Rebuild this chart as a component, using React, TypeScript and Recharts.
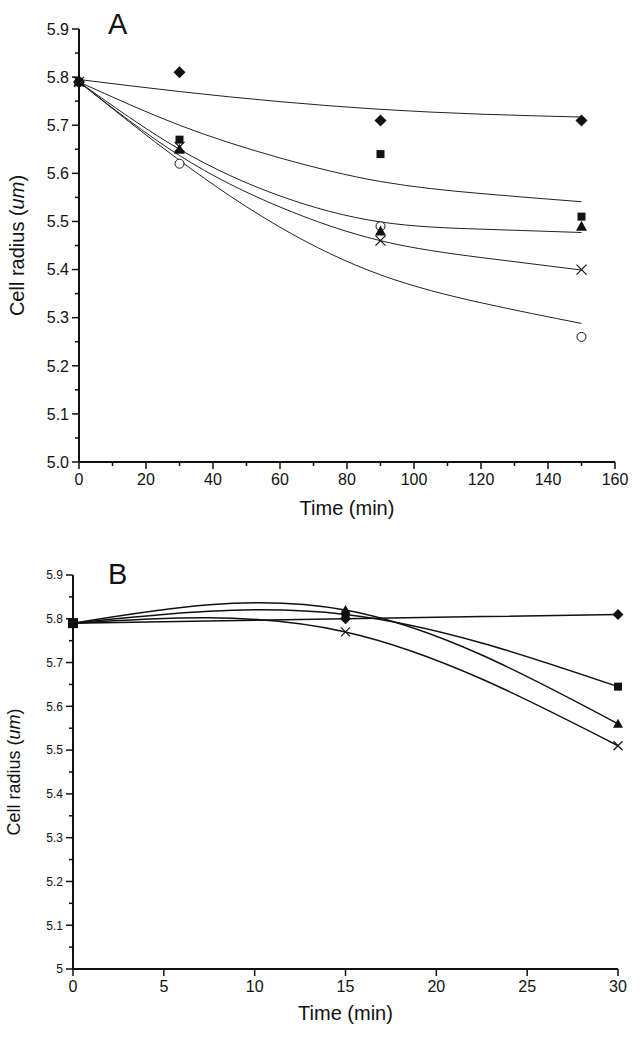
import { ComposedChart, Line, Scatter, XAxis, YAxis } from 'recharts';

// Panel A: fitted curves (read at regular times) and observed points
const timeFitA = [0, 30, 60, 90, 120, 150];
const fitDiamondA = [5.795, 5.77, 5.749, 5.733, 5.723, 5.717];
const fitSquareA = [5.79, 5.7, 5.632, 5.583, 5.558, 5.541];
const fitTriangleA = [5.79, 5.65, 5.553, 5.499, 5.484, 5.477];
const fitCrossA = [5.79, 5.637, 5.53, 5.46, 5.425, 5.399];
const fitCircleA = [5.79, 5.627, 5.488, 5.389, 5.331, 5.288];

const timeObsA = [0, 30, 90, 150];
const diamondA = [5.79, 5.81, 5.71, 5.71];
const squareA = [5.79, 5.67, 5.64, 5.51];
const triangleA = [5.79, 5.65, 5.48, 5.49];
const circleA = [5.79, 5.62, 5.49, 5.26];
const crossA = [5.79, 5.655, 5.46, 5.4];

// Panel B
const timeB = [0, 15, 30];
const diamondB = [5.79, 5.8, 5.81];
const squareB = [5.79, 5.81, 5.645];
const triangleB = [5.79, 5.82, 5.56];
const crossB = [5.79, 5.77, 5.51];

// ticks
const yMajorA = [5.0, 5.1, 5.2, 5.3, 5.4, 5.5, 5.6, 5.7, 5.8, 5.9];
const yMinorA = [5.05, 5.15, 5.25, 5.35, 5.45, 5.55, 5.65, 5.75, 5.85];
const xMajorA = [0, 20, 40, 60, 80, 100, 120, 140, 160];
const xMinorA = [10, 30, 50, 70, 90, 110, 130, 150];
const yMajorB = [5, 5.1, 5.2, 5.3, 5.4, 5.5, 5.6, 5.7, 5.8, 5.9];
const yMinorB = [5.05, 5.15, 5.25, 5.35, 5.45, 5.55, 5.65, 5.75, 5.85];
const xTicksB = [0, 5, 10, 15, 20, 25, 30];

const FONT = "'Liberation Sans', Arial, sans-serif";
const NARROW = "'Liberation Sans Narrow', 'Liberation Sans', Arial, sans-serif";
const INK = '#111';

const pts = (ts: number[], vs: number[]) => ts.map((t, i) => ({ t, v: vs[i] }));
const sortNum = (a: number[], b: number[]) => [...a, ...b].sort((p, q) => p - q);
const isIn = (list: number[], v: number) => list.some((m) => Math.abs(m - v) < 1e-6);

function makeYTick(majors: number[], fontSize: number, family: string, fmt: (v: number) => string) {
  return (props: any) => {
    const { x, y, payload } = props;
    const major = isIn(majors, payload.value);
    const len = major ? 7 : 4;
    return (
      <g>
        <line x1={x} x2={x - len} y1={y} y2={y} stroke={INK} strokeWidth={1.5} />
        {major && (
          <text x={x - len - 3} y={y} dy="0.36em" textAnchor="end" fontSize={fontSize} fontFamily={family} fill={INK}>
            {fmt(payload.value)}
          </text>
        )}
      </g>
    );
  };
}

function makeXTick(majors: number[], fontSize: number, family: string) {
  return (props: any) => {
    const { x, y, payload } = props;
    const major = isIn(majors, payload.value);
    const len = major ? 7 : 4;
    return (
      <g>
        <line x1={x} x2={x} y1={y} y2={y + len} stroke={INK} strokeWidth={1.5} />
        {major && (
          <text x={x} y={y + 12} dy="0.71em" textAnchor="middle" fontSize={fontSize} fontFamily={family} fill={INK}>
            {payload.value}
          </text>
        )}
      </g>
    );
  };
}

function yTitle(cx: number, fontSize: number) {
  return (props: any) => {
    const vb = props.viewBox || {};
    const cy = vb.y + vb.height / 2;
    return (
      <text x={cx} y={cy} transform={`rotate(-90 ${cx} ${cy})`} textAnchor="middle" dy="0.35em" fontSize={fontSize} fontFamily={FONT} fill={INK}>
        Cell radius (<tspan fontStyle="italic">um</tspan>)
      </text>
    );
  };
}

function xTitle(baseline: number, fontSize: number) {
  return (props: any) => {
    const vb = props.viewBox || {};
    return (
      <text x={vb.x + vb.width / 2} y={baseline} textAnchor="middle" fontSize={fontSize} fontFamily={FONT} fill={INK}>
        Time (min)
      </text>
    );
  };
}

// marker shapes
const Diamond = ({ cx, cy, r = 6 }: any) => (
  <polygon points={`${cx},${cy - r} ${cx + r},${cy} ${cx},${cy + r} ${cx - r},${cy}`} fill={INK} />
);
const Square = ({ cx, cy, r = 4 }: any) => <rect x={cx - r} y={cy - r} width={2 * r} height={2 * r} fill={INK} />;
const Triangle = ({ cx, cy, r = 5.5 }: any) => (
  <polygon points={`${cx},${cy - r} ${cx + r},${cy + r * 0.8} ${cx - r},${cy + r * 0.8}`} fill={INK} />
);
const Circle = ({ cx, cy, r = 4.5 }: any) => <circle cx={cx} cy={cy} r={r} fill="#fff" stroke={INK} strokeWidth={1} />;
const Cross = ({ cx, cy, r = 5 }: any) => (
  <path d={`M${cx - r},${cy - r}L${cx + r},${cy + r}M${cx - r},${cy + r}L${cx + r},${cy - r}`} stroke={INK} strokeWidth={1.2} fill="none" />
);

function PanelA() {
  const fits = [fitDiamondA, fitSquareA, fitTriangleA, fitCrossA, fitCircleA];
  return (
    <ComposedChart width={642} height={530} margin={{ top: 29, right: 27, bottom: 8, left: 0 }}>
      <XAxis
        type="number"
        dataKey="t"
        domain={[0, 160]}
        ticks={sortNum(xMajorA, xMinorA)}
        interval={0}
        tickSize={0}
        tickMargin={0}
        tickLine={false}
        axisLine={{ stroke: INK, strokeWidth: 2 }}
        tick={makeXTick(xMajorA, 16, FONT)}
        height={60}
        label={{ content: xTitle(515, 20) }}
      />
      <YAxis
        type="number"
        dataKey="v"
        domain={[5.0, 5.9]}
        ticks={sortNum(yMajorA, yMinorA)}
        interval={0}
        tickSize={0}
        tickMargin={0}
        tickLine={false}
        axisLine={{ stroke: INK, strokeWidth: 2 }}
        tick={makeYTick(yMajorA, 16, FONT, (v) => v.toFixed(1))}
        width={79}
        label={{ content: yTitle(17, 20) }}
      />
      {fits.map((f, i) => (
        <Line
          key={i}
          data={pts(timeFitA, f)}
          dataKey="v"
          type="natural"
          stroke="#222"
          strokeWidth={1}
          dot={false}
          isAnimationActive={false}
        />
      ))}
      <Scatter data={pts(timeObsA, circleA)} dataKey="v" shape={(p: any) => <Circle cx={p.cx} cy={p.cy} />} isAnimationActive={false} />
      <Scatter data={pts(timeObsA, crossA)} dataKey="v" shape={(p: any) => <Cross cx={p.cx} cy={p.cy} />} isAnimationActive={false} />
      <Scatter data={pts(timeObsA, squareA)} dataKey="v" shape={(p: any) => <Square cx={p.cx} cy={p.cy} />} isAnimationActive={false} />
      <Scatter data={pts(timeObsA, triangleA)} dataKey="v" shape={(p: any) => <Triangle cx={p.cx} cy={p.cy} />} isAnimationActive={false} />
      <Scatter data={pts(timeObsA, diamondA)} dataKey="v" shape={(p: any) => <Diamond cx={p.cx} cy={p.cy} />} isAnimationActive={false} />
    </ComposedChart>
  );
}

function PanelB() {
  const series = [
    { v: crossB, dot: (p: any) => <Cross key={p.index} cx={p.cx} cy={p.cy} r={4.5} /> },
    { v: triangleB, dot: (p: any) => <Triangle key={p.index} cx={p.cx} cy={p.cy} r={5} /> },
    { v: squareB, dot: (p: any) => <Square key={p.index} cx={p.cx} cy={p.cy} r={p.index === 0 ? 5 : 4} /> },
    { v: diamondB, dot: (p: any) => <Diamond key={p.index} cx={p.cx} cy={p.cy} r={5.5} /> },
  ];
  return (
    <ComposedChart width={642} height={499} margin={{ top: 35, right: 24, bottom: 10, left: 0 }}>
      <XAxis
        type="number"
        dataKey="t"
        domain={[0, 30]}
        ticks={xTicksB}
        interval={0}
        tickSize={0}
        tickMargin={0}
        tickLine={false}
        axisLine={{ stroke: INK, strokeWidth: 2 }}
        tick={makeXTick(xTicksB, 16, FONT)}
        height={60}
        label={{ content: xTitle(480, 20) }}
      />
      <YAxis
        type="number"
        dataKey="v"
        domain={[5, 5.9]}
        ticks={sortNum(yMajorB, yMinorB)}
        interval={0}
        tickSize={0}
        tickMargin={0}
        tickLine={false}
        axisLine={{ stroke: INK, strokeWidth: 2 }}
        tick={makeYTick(yMajorB, 12, NARROW, (v) => String(v))}
        width={73}
        label={{ content: yTitle(14, 18) }}
      />
      {series.map((s, i) => (
        <Line
          key={i}
          data={pts(timeB, s.v)}
          dataKey="v"
          type="natural"
          stroke={INK}
          strokeWidth={1.5}
          dot={s.dot}
          isAnimationActive={false}
        />
      ))}
    </ComposedChart>
  );
}

export default function App() {
  return (
    <div style={{ position: 'absolute', left: 0, top: 0, width: 642, height: 1039, background: '#fff', fontFamily: FONT }}>
      <div style={{ position: 'absolute', left: 0, top: 0 }}>
        <PanelA />
      </div>
      <div style={{ position: 'absolute', left: 0, top: 540 }}>
        <PanelB />
      </div>
      <div style={{ position: 'absolute', left: 108, top: 10, fontSize: 29, lineHeight: 1, color: INK }}>A</div>
      <div style={{ position: 'absolute', left: 108, top: 560, fontSize: 29, lineHeight: 1, color: INK }}>B</div>
    </div>
  );
}
